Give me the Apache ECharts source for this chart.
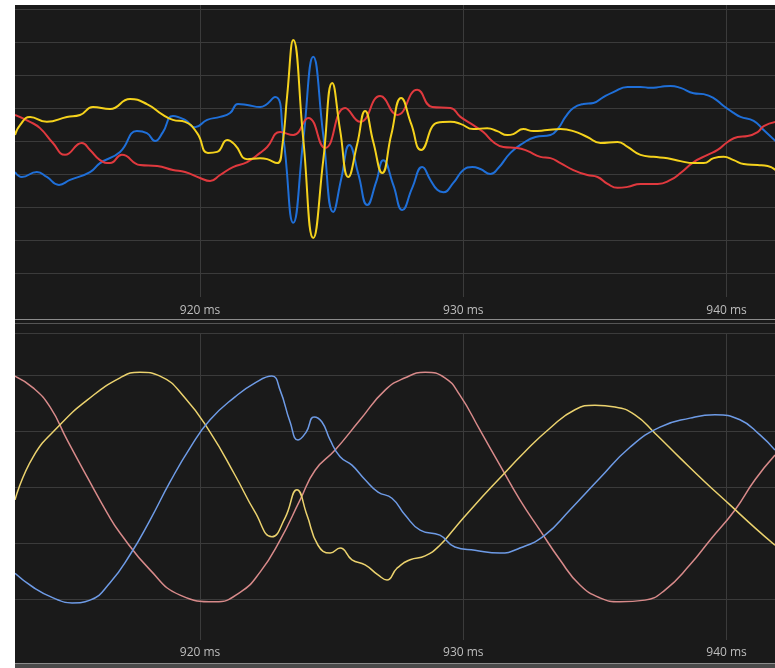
<!DOCTYPE html>
<html>
<head>
<meta charset="utf-8">
<script src="https://cdn.jsdelivr.net/npm/echarts@6/dist/echarts.min.js"></script>
<style>
  html, body { margin: 0; padding: 0; background: #ffffff; }
  #chart { position: absolute; left: 15px; top: 5px; width: 760px; height: 658px; background: #1a1a1a; }
  #foot { position: absolute; left: 15px; top: 663px; width: 760px; height: 5px; background: #4a4a4a; border-top: 1px solid #8c8c8c; box-sizing: border-box; }
</style>
</head>
<body>
<div id="chart"></div>
<div id="foot"></div>
<script>
// Time axis (ms) and tick labels
const xMin = 912.97;
const xMax = 941.84;
const timeTicks = [920, 930, 940];

// Upper panel: horizontal grid levels
const upperLevels = [-4, -3, -2, -1, 0, 1, 2, 3, 4];
// Lower panel: horizontal grid levels
const lowerLevels = [-2, -1, 0, 1, 2];

// Upper panel, blue trace
const upBlueT = [912.97,913.23,913.80,914.18,914.64,915.06,915.82,916.20,916.96,917.60,917.98,918.29,918.59,918.97,919.43,919.81,920.27,920.76,921.14,921.44,921.79,922.28,922.85,923.16,923.54,923.92,924.30,924.68,925.06,925.37,925.67,926.02,926.35,926.69,926.96,927.34,927.68,928.06,928.44,928.75,929.01,929.24,929.62,930.00,930.34,930.65,931.03,931.33,931.79,932.28,932.74,933.31,933.61,933.88,934.18,934.56,934.94,935.32,935.70,936.24,936.73,937.11,937.49,937.87,938.25,938.75,939.13,939.51,939.89,940.27,940.53,941.03,941.41,941.86];
const upBlueV = [-0.94,-1.09,-0.94,-1.09,-1.33,-1.18,-0.94,-0.67,-0.33,0.30,0.24,0.00,0.27,0.76,0.64,0.42,0.64,0.73,0.85,1.12,1.09,1.03,1.33,0.12,-2.48,0.03,2.55,0.18,-2.15,-1.12,-0.12,-1.03,-1.94,-1.24,-0.58,-1.33,-2.09,-1.42,-0.79,-1.18,-1.48,-1.55,-1.27,-0.88,-0.79,-0.85,-1.00,-0.82,-0.36,-0.06,0.12,0.18,0.39,0.73,1.00,1.12,1.15,1.33,1.48,1.64,1.64,1.61,1.64,1.67,1.61,1.45,1.42,1.30,1.06,0.85,0.73,0.61,0.33,0.00];

// Upper panel, red trace
const upRedT = [912.97,913.54,913.92,914.41,914.87,915.51,915.82,916.20,916.58,917.03,917.72,918.37,918.97,919.43,920.00,920.38,920.76,921.25,921.79,922.28,922.55,923.04,923.54,924.11,924.75,925.51,926.08,926.84,927.49,928.25,928.82,929.51,929.89,930.38,930.76,931.14,931.52,932.05,932.43,932.93,933.31,933.69,934.18,934.71,935.10,935.48,935.86,936.24,936.73,937.38,937.87,938.25,938.75,939.28,939.66,940.04,940.42,940.80,941.18,941.41,941.86];
const upRedV = [0.79,0.58,0.39,-0.06,-0.42,-0.06,-0.27,-0.58,-0.67,-0.42,-0.73,-0.76,-0.88,-0.94,-1.12,-1.21,-1.03,-0.79,-0.64,-0.36,-0.18,0.27,0.18,0.70,-0.21,1.00,0.58,1.36,0.79,1.55,1.03,1.00,0.73,0.48,0.27,-0.03,-0.18,-0.21,-0.30,-0.48,-0.52,-0.67,-0.88,-1.03,-1.09,-1.30,-1.42,-1.39,-1.30,-1.30,-1.18,-0.97,-0.64,-0.42,-0.27,-0.03,0.12,0.15,0.27,0.45,0.58];

// Upper panel, yellow trace
const upYellowT = [912.97,913.16,913.54,914.18,914.94,915.44,915.93,916.58,917.34,917.98,918.59,918.97,919.43,919.89,920.30,920.65,921.03,921.33,921.79,922.28,922.55,922.93,923.12,923.31,923.54,923.92,924.30,924.68,925.02,925.32,925.63,925.97,926.27,926.58,926.92,927.26,927.64,928.02,928.40,929.01,929.51,929.89,930.38,930.91,931.29,931.67,931.90,932.28,932.66,933.19,933.69,934.18,934.71,935.21,935.86,936.24,936.73,937.22,937.76,938.25,938.75,939.13,939.51,939.89,940.27,940.65,941.18,941.56,941.86];
const upYellowV = [0.18,0.48,0.73,0.58,0.73,0.79,1.03,0.97,1.27,1.12,0.79,0.64,0.58,0.24,-0.36,-0.33,0.03,-0.12,-0.55,-0.52,-0.55,-0.67,-0.18,1.39,3.06,0.06,-2.94,-0.58,1.76,0.33,-1.09,-0.09,0.91,-0.03,-0.97,0.18,1.30,0.52,-0.27,0.55,0.58,0.52,0.36,0.39,0.30,0.18,0.21,0.36,0.30,0.33,0.36,0.30,0.12,-0.06,-0.03,-0.18,-0.42,-0.48,-0.52,-0.61,-0.67,-0.67,-0.52,-0.48,-0.58,-0.70,-0.73,-0.76,-0.88];

// Lower panel, rose trace
const loRoseT = [912.97,913.66,914.30,914.95,915.71,916.47,916.96,918.10,919.24,920.57,921.52,922.28,923.04,923.80,924.37,925.13,926.08,927.03,927.79,928.55,929.30,929.87,930.63,931.39,932.15,932.91,933.67,934.43,935.19,935.95,936.90,937.66,938.61,939.37,940.32,941.08,941.84];
const loRoseV = [1.98,1.77,1.43,0.84,0.18,-0.46,-0.82,-1.48,-1.93,-2.05,-1.88,-1.52,-0.95,-0.23,0.30,0.66,1.20,1.73,1.95,2.05,1.95,1.64,1.02,0.39,-0.23,-0.77,-1.30,-1.75,-1.98,-2.05,-2.02,-1.84,-1.39,-0.95,-0.41,0.13,0.57];

// Lower panel, yellow trace
const loYellowT = [912.97,913.66,914.68,915.71,916.96,917.72,918.48,919.43,920.38,921.33,922.09,922.73,923.23,923.68,924.06,924.48,924.94,925.32,925.77,926.27,926.76,927.10,927.48,927.98,928.55,929.11,929.68,930.44,931.39,932.34,933.29,934.24,935.00,935.76,936.52,937.28,938.23,939.18,940.13,941.08,941.84];
const loYellowV = [-0.23,0.54,1.11,1.55,1.95,2.05,1.98,1.59,0.98,0.21,-0.45,-0.89,-0.55,-0.05,-0.50,-1.04,-1.18,-1.09,-1.30,-1.39,-1.57,-1.66,-1.45,-1.30,-1.23,-1.04,-0.73,-0.32,0.16,0.63,1.05,1.38,1.46,1.43,1.29,0.96,0.52,0.09,-0.32,-0.73,-1.04];

// Lower panel, blue trace
const loBlueT = [912.97,913.66,914.42,915.14,915.82,916.58,917.34,918.10,918.86,919.62,920.38,921.33,922.09,922.73,923.04,923.42,923.72,924.03,924.33,924.63,924.94,925.32,925.77,926.27,926.76,927.29,927.79,928.36,929.11,929.68,930.44,931.39,932.15,933.10,934.05,935.19,936.33,937.47,938.61,939.56,940.51,941.27,941.84];
const loBlueV = [-1.54,-1.79,-1.98,-2.07,-2.02,-1.71,-1.21,-0.59,0.09,0.70,1.20,1.61,1.86,1.98,1.73,1.16,0.84,0.98,1.25,1.16,0.84,0.54,0.39,0.13,-0.09,-0.20,-0.50,-0.77,-0.86,-1.07,-1.13,-1.18,-1.09,-0.86,-0.41,0.16,0.71,1.07,1.23,1.29,1.20,0.93,0.66];

function pairs(t, v) { return t.map((x, i) => [x, v[i]]); }

const gridColor = '#3b3b3b';
const labelStyle = { color: '#bdbdbd', fontSize: 12, fontFamily: 'Open Sans, Noto Sans, sans-serif' };

function timeAxis(gridIndex, margin) {
  return {
    type: 'value', gridIndex, min: xMin, max: xMax,
    axisLine: { show: true, lineStyle: { color: gridColor, width: 1 } },
    axisTick: { show: false, customValues: timeTicks },
    axisLabel: { customValues: timeTicks, formatter: '{value} ms', margin, ...labelStyle },
    splitLine: { show: true, lineStyle: { color: gridColor, width: 1 } }
  };
}

function levelAxis(gridIndex, min, max, levels) {
  return {
    type: 'value', gridIndex, min, max,
    axisLine: { show: false }, axisLabel: { show: false },
    axisTick: { show: false, customValues: levels },
    splitLine: { show: true, lineStyle: { color: gridColor, width: 1 } }
  };
}

function trace(name, xi, yi, t, v, color, width) {
  return {
    name, type: 'line', xAxisIndex: xi, yAxisIndex: yi,
    data: pairs(t, v), smooth: 0.5, showSymbol: false, symbol: 'none',
    lineStyle: { color, width }, silent: true
  };
}

const chart = echarts.init(document.getElementById('chart'), null, { renderer: 'canvas' });
chart.setOption({
  animation: false,
  backgroundColor: '#1a1a1a',
  grid: [
    { left: 0, right: 0, top: 0, height: 292 },
    { left: 0, right: 0, top: 328, height: 307 }
  ],
  xAxis: [
    timeAxis(0, 8),
    timeAxis(1, 7),
    {
      type: 'value', gridIndex: 1, position: 'top', min: xMin, max: xMax,
      axisLine: { show: true, lineStyle: { color: gridColor } },
      axisTick: { show: false }, axisLabel: { show: false }, splitLine: { show: false }
    }
  ],
  yAxis: [
    levelAxis(0, -4.727, 4.121, upperLevels),
    levelAxis(1, -2.732, 2.75, lowerLevels)
  ],
  graphic: [
    { type: 'rect', shape: { x: 0, y: 314, width: 760, height: 1 }, style: { fill: '#8c8c8c' }, silent: true },
    { type: 'rect', shape: { x: 0, y: 318, width: 760, height: 1 }, style: { fill: '#555555' }, silent: true }
  ],
  series: [
    trace('Blue', 0, 0, upBlueT, upBlueV, '#1f6fd8', 2),
    trace('Red', 0, 0, upRedT, upRedV, '#e0393e', 2),
    trace('Yellow', 0, 0, upYellowT, upYellowV, '#f5d21c', 2),
    trace('Rose', 1, 1, loRoseT, loRoseV, '#d88a8a', 1.5),
    trace('Gold', 1, 1, loYellowT, loYellowV, '#ebd26e', 1.5),
    trace('Sky', 1, 1, loBlueT, loBlueV, '#6e9be6', 1.5)
  ]
});
</script>
</body>
</html>
